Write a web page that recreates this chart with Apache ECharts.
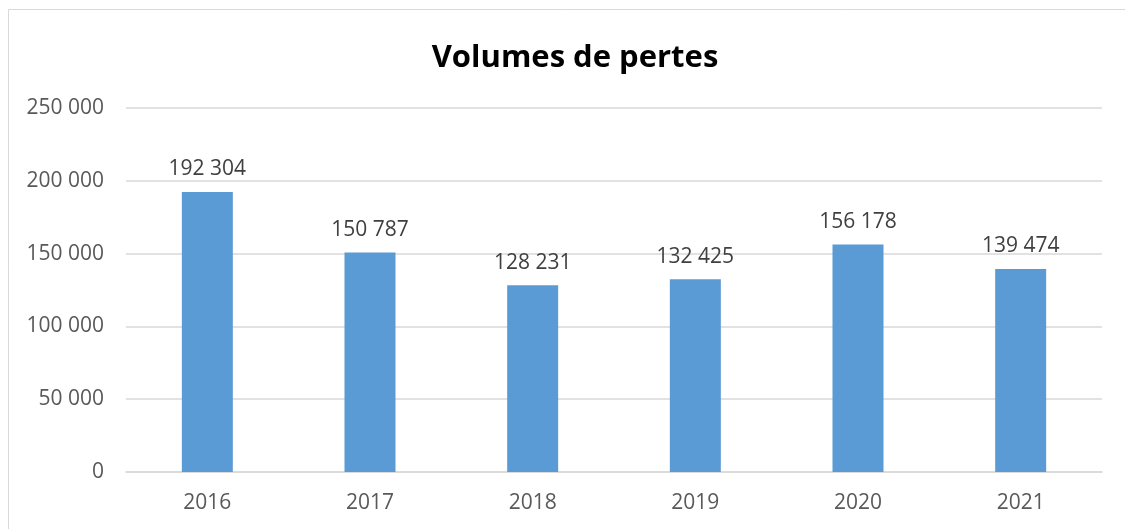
<!DOCTYPE html>
<html><head><meta charset="utf-8">
<script src="https://cdn.jsdelivr.net/npm/echarts@6/dist/echarts.min.js"></script>
<style>html,body{margin:0;padding:0;background:#fff;}#c{width:1125px;height:529px;}</style>
</head><body><div id="c"></div>
<script>
const categories = ['2016','2017','2018','2019','2020','2021'];
const volumes = [192304, 150787, 128231, 132425, 156178, 139474];
const yTicks = [0, 50000, 100000, 150000, 200000, 250000];
const titleText = 'Volumes de pertes';

function fmt(v){ return String(v).replace(/\B(?=(\d{3})+(?!\d))/g, ' '); }

const chart = echarts.init(document.getElementById('c'));
chart.setOption({
  animation:false,
  backgroundColor:'#fff',
  graphic:[{type:'rect',shape:{x:8.5,y:9.5,width:1130,height:540},style:{fill:'none',stroke:'#d9d9d9',lineWidth:1},silent:true}],
  title:{text:titleText,left:570,textAlign:'center',top:38,textStyle:{fontFamily:'Open Sans',fontWeight:'bold',fontSize:31,color:'#000'}},
  grid:{left:126,right:23,top:108,bottom:57},
  xAxis:{type:'category',data:categories,axisTick:{show:false},axisLine:{lineStyle:{color:'#d9d9d9',width:1.5}},
    axisLabel:{color:'#595959',fontSize:21,fontFamily:'Open Sans',margin:21}},
  yAxis:{type:'value',min:yTicks[0],max:yTicks[yTicks.length-1],interval:50000,
    axisLine:{show:false},axisTick:{show:false},
    splitLine:{lineStyle:{color:'#d9d9d9',width:1.5}},
    axisLabel:{color:'#595959',fontSize:21,fontFamily:'Open Sans',margin:22,formatter:v=>fmt(v)}},
  series:[{type:'bar',data:volumes,barWidth:51,itemStyle:{color:'#5b9bd5'},
    label:{show:true,position:'top',distance:12,color:'#404040',fontSize:21,fontFamily:'Open Sans',formatter:p=>fmt(p.value)}}]
});
</script></body></html>
